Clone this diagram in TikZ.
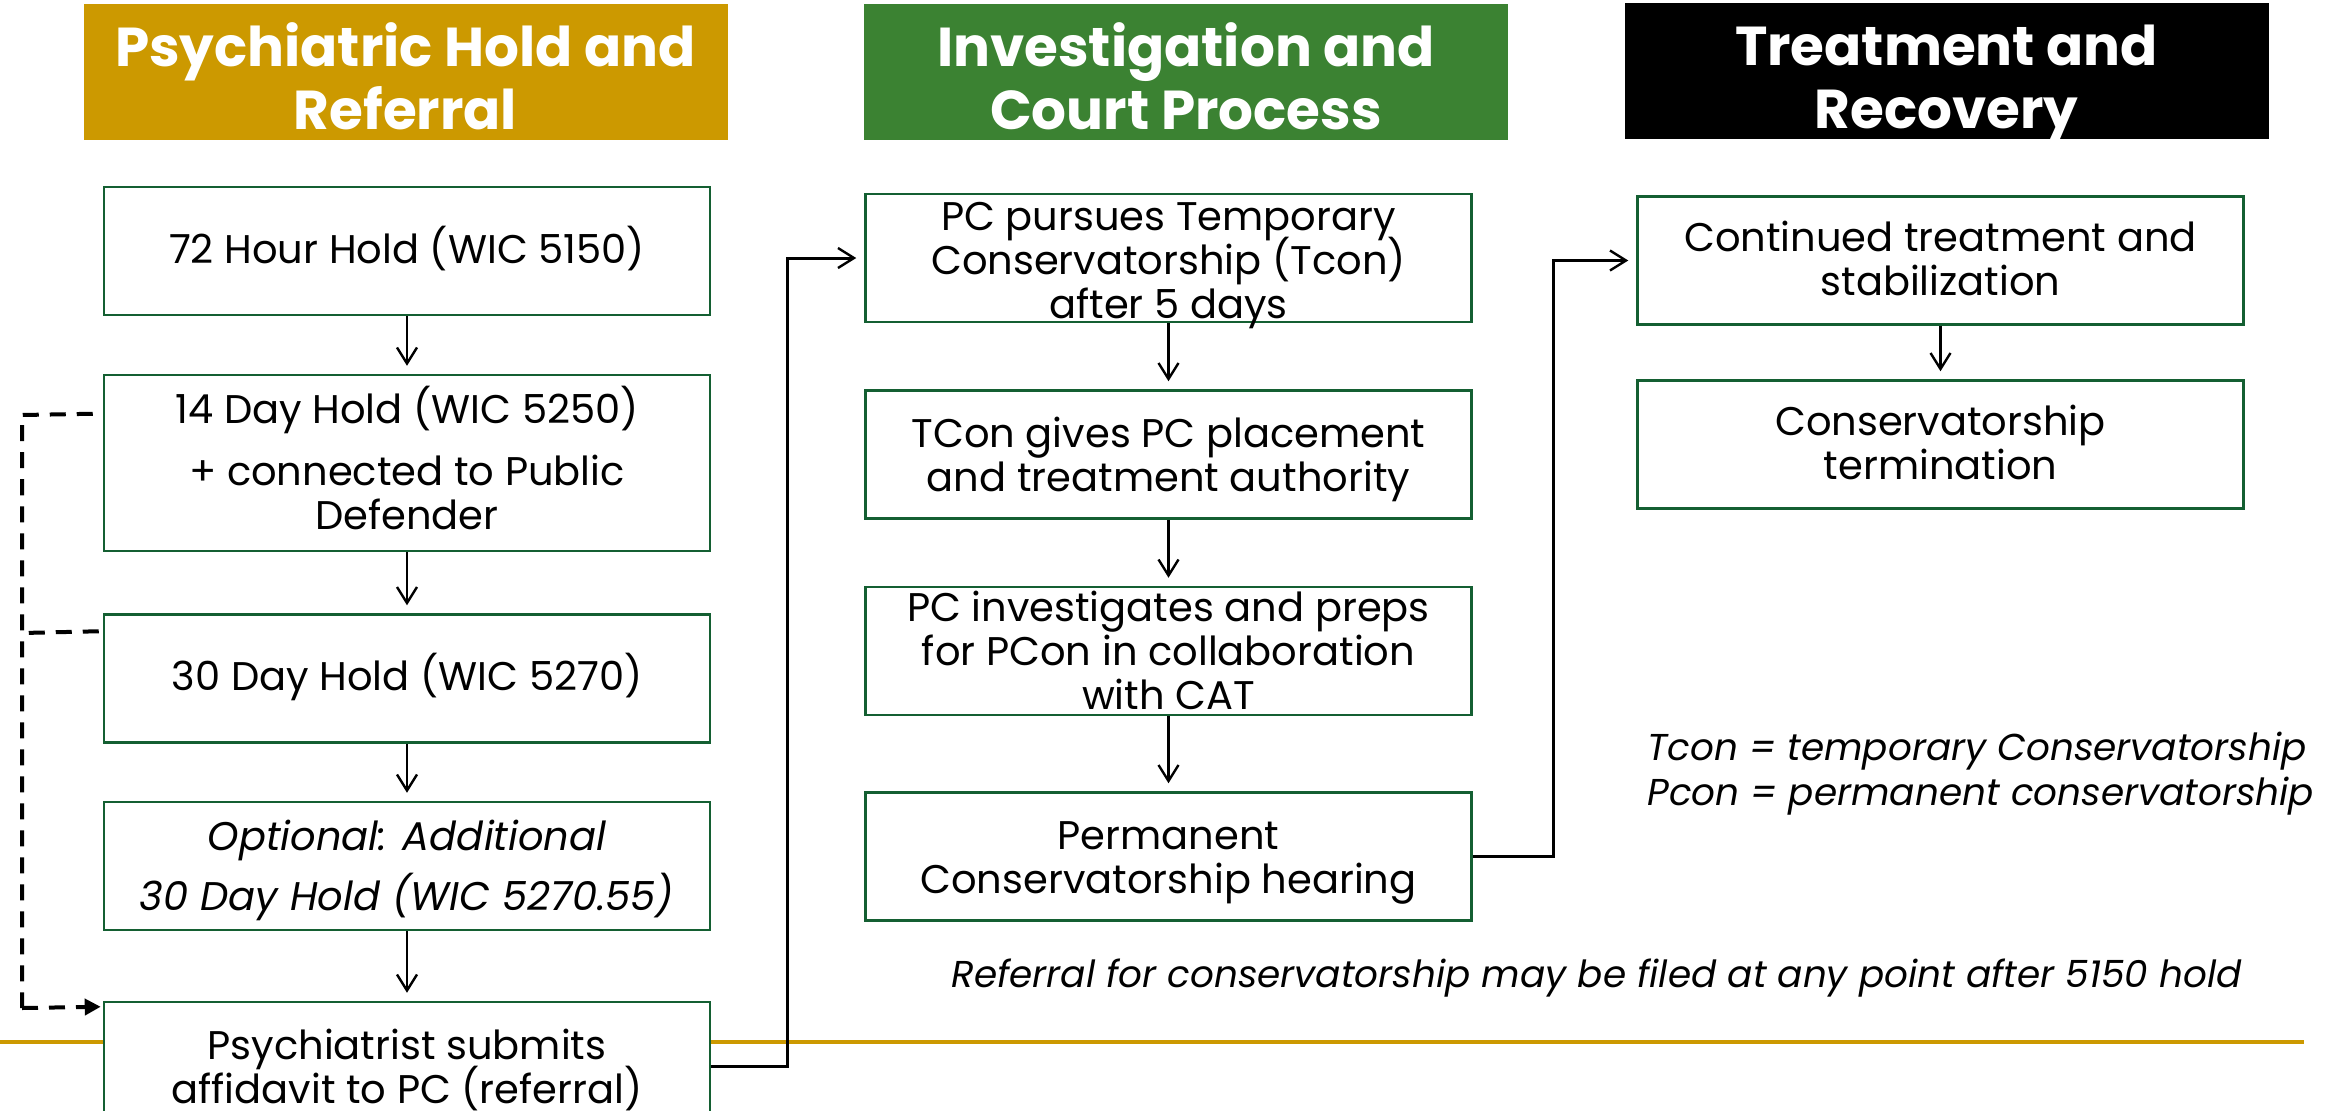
\documentclass[tikz,border=0pt]{standalone}
\usepackage{fontspec}
\setmainfont{Poppins}
\usetikzlibrary{arrows.meta}
\definecolor{hgold}{RGB}{204,153,0}
\definecolor{hgreen}{RGB}{59,130,50}
\definecolor{bgreen}{RGB}{20,95,50}
\newcommand\nolskip{\lineskiplimit=-50pt\relax}
\newcommand\hdtext[1]{\parbox[c][68pt][t]{322pt}{\centering\nolskip\rule{0pt}{31.2pt}#1}}
\newcommand\bxtext[3][0pt]{\parbox[c][#2][c]{300pt}{\centering\nolskip\vspace*{#1}\strut #3\strut}}
\tikzset{
  hdr/.style={fill=#1, minimum width=322pt, minimum height=68pt, inner sep=0pt,
    text=white, font=\fontsize{27.4}{31.5}\selectfont\bfseries},
  stepbox/.style={draw=bgreen, line width=1.25pt, fill=white, minimum width=303pt, minimum height=#1,
    inner sep=0pt, font=\fontsize{20}{22}\selectfont},
  stepbox/.default=64pt,
  flow/.style={line width=1.2pt, -{Straight Barb[length=8pt,width=10pt,line width=1.2pt]}, shorten >=4pt},
  link/.style={line width=1.5pt, -{Straight Barb[length=8pt,width=10pt,line width=1.2pt]}, shorten >=4pt},
  dashlink/.style={line width=2pt, dash pattern=on 8pt off 5.5pt},
  note/.style={inner sep=0pt, font=\fontsize{18.7}{22.4}\selectfont\itshape}
}
\begin{document}
\begin{tikzpicture}[x=0.5pt,y=-0.5pt]
\useasboundingbox (0,0) rectangle (2341,1110);
\clip (0,0) rectangle (2341,1110);
% gold rule
\draw[hgold, line width=2pt] (0,1042) -- (2304,1042);
% headers
\node[hdr=hgold] (h1) at (405.5,72) {\hdtext{Psychiatric Hold and\\Referral}};
\node[hdr=hgreen] (h2) at (1186,72) {\hdtext{Investigation and\\Court Process}};
\node[hdr=black] (h3) at (1946.5,71) {\hdtext{Treatment and\\Recovery}};
% left column
\node[stepbox] (b1) at (407,251) {\bxtext{64pt}{72 Hour Hold (WIC 5150)}};
\node[stepbox=88pt] (b2) at (407,463) {\bxtext[1.5pt]{88pt}{14 Day Hold (WIC 5250)\\[9pt]+ connected to Public\\Defender}};
\node[stepbox] (b3) at (407,678.5) {\bxtext{64pt}{30 Day Hold (WIC 5270)}};
\node[stepbox] (b4) at (407,866) {\bxtext[6pt]{64pt}{\itshape Optional: Additional\\[8pt]30 Day Hold (WIC 5270.55)}};
\node[stepbox] (b5) at (407,1066) {\bxtext[7pt]{64pt}{Psychiatrist submits\\affidavit to PC (referral)}};
% middle column
\node[stepbox] (m1) at (1168.5,258) {\bxtext[7.5pt]{64pt}{PC pursues Temporary\\Conservatorship (Tcon)\\after 5 days}};
\node[stepbox] (m2) at (1168.5,454.5) {\bxtext[6.5pt]{64pt}{TCon gives PC placement\\and treatment authority}};
\node[stepbox] (m3) at (1168.5,651) {\bxtext[6pt]{64pt}{PC investigates and preps\\for PCon in collaboration\\with CAT}};
\node[stepbox] (m4) at (1168.5,856.5) {\bxtext[6pt]{64pt}{Permanent\\Conservatorship hearing}};
% right column
\node[stepbox] (r1) at (1940.5,260.5) {\bxtext[4.5pt]{64pt}{Continued treatment and\\stabilization}};
\node[stepbox] (r2) at (1940.5,444.5) {\bxtext[4.5pt]{64pt}{Conservatorship\\termination}};
% notes
\node[note, anchor=west, align=left] (leg) at (1647,773.5) {Tcon = temporary Conservatorship\\Pcon = permanent conservatorship};
\node[note, anchor=west] (foot) at (951,978) {Referral for conservatorship may be filed at any point after 5150 hold};
% vertical flows
\draw[flow] (b1) -- (b2);
\draw[flow] (b2) -- (b3);
\draw[flow] (b3) -- (b4);
\draw[flow] (b4) -- (b5);
\draw[flow] (m1) -- (m2);
\draw[flow] (m2) -- (m3);
\draw[flow] (m3) -- (m4);
\draw[flow] (r1) -- (r2);
% cross-column links
\coordinate (c1) at (787,1066);
\coordinate (c2) at (787,258);
\draw[link] (b5.east) -- (c1) -- (c2) -- (m1.west);
\coordinate (c3) at (1553,856.5);
\coordinate (c4) at (1553,260.5);
\draw[link] (m4.east) -- (c3) -- (c4) -- (r1.west);
% dashed side path
\coordinate (d1) at (22,415);
\coordinate (d2) at (22,1008);
\coordinate (d3) at (22,633);
\draw[dashlink] ([xshift=-5pt,yshift=-20pt]b2.north west) -- (d1) -- (d2);
\draw[dashlink, -{Triangle[length=8pt,width=8pt]}] (d2) -- ([xshift=-1pt,yshift=-3pt]b5.north west);
\draw[dashlink] ([xshift=-2pt,yshift=-9pt]b3.north west) -- (d3);
\end{tikzpicture}
\end{document}
